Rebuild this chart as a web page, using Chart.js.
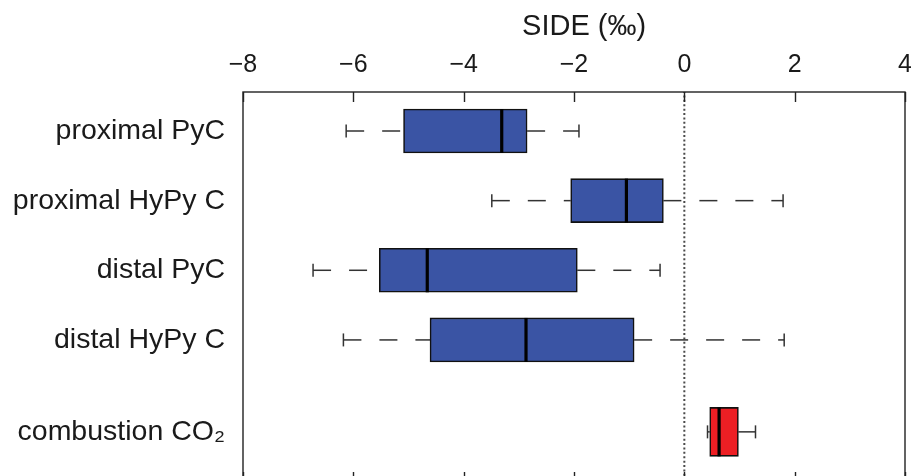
<!DOCTYPE html>
<html>
<head>
<meta charset="utf-8">
<script src="https://cdn.jsdelivr.net/npm/chart.js@4.4.1/dist/chart.umd.min.js"></script>
<style>
  html, body { margin: 0; padding: 0; background: #ffffff; overflow: hidden; width: 911px; height: 476px; }
  #wrap { width: 911px; height: 476px; overflow: hidden; position: relative; }
  canvas { display: block; position: absolute; left: 0; top: 0; }
</style>
</head>
<body>
<div id="wrap"><canvas id="c" width="911" height="490"></canvas></div>
<script>
// ---- data ----
const categories = ['proximal PyC', 'proximal HyPy C', 'distal PyC', 'distal HyPy C', 'combustion CO\u2082'];
const positions = [1, 2, 3, 4, 5.32];
const lowerWhisker = [-6.13, -3.49, -6.73, -6.18, 0.42];
const q1 = [-5.09, -2.06, -5.53, -4.61, 0.46];
const median = [-3.31, -1.05, -4.66, -2.87, 0.63];
const q3 = [-2.85, -0.38, -1.94, -0.91, 0.98];
const upperWhisker = [-1.91, 1.79, -0.44, 1.81, 1.29];
const boxColors = ['#3a54a4', '#3a54a4', '#3a54a4', '#3a54a4', '#ed1f24'];
const xTicks = [-8, -6, -4, -2, 0, 2, 4];
const axisTitle = '\u2002\u2009SIDE (\u2030)';

const FONT = "'Liberation Sans', Arial, Helvetica, sans-serif";
const INK = '#1a1a1a';

const blueIdx = [0, 1, 2, 3];
const redIdx = [4];

const datasets = [];

// zero reference line (dotted)
datasets.push({
  type: 'line',
  data: [{x: 0, y: 0.3}, {x: 0, y: 6.5}],
  borderColor: '#4a4a4a',
  borderWidth: 2,
  borderDash: [2, 2.4],
  pointRadius: 0,
  order: 20
});

// whiskers (dashed), drawn left to right
for (let i = 0; i < categories.length; i++) {
  [[lowerWhisker[i], q1[i]], [q3[i], upperWhisker[i]]].forEach(seg => {
    datasets.push({
      type: 'line',
      data: [{x: seg[0], y: positions[i]}, {x: seg[1], y: positions[i]}],
      borderColor: '#333333',
      borderWidth: 1.5,
      borderDash: [18, 18],
      pointRadius: 0,
      order: 10
    });
  });
}

// boxes
datasets.push({
  type: 'bar',
  data: blueIdx.map(i => ({y: positions[i], x: [q1[i], q3[i]]})),
  backgroundColor: blueIdx.map(i => boxColors[i]),
  borderColor: '#111111',
  borderWidth: 1.6,
  borderSkipped: false,
  barThickness: 44,
  grouped: false,
  order: 5
});
datasets.push({
  type: 'bar',
  data: redIdx.map(i => ({y: positions[i], x: [q1[i], q3[i]]})),
  backgroundColor: redIdx.map(i => boxColors[i]),
  borderColor: '#111111',
  borderWidth: 1.6,
  borderSkipped: false,
  barThickness: 49,
  grouped: false,
  order: 5
});

// whisker caps
datasets.push({
  type: 'scatter',
  data: categories.flatMap((c, i) => [{x: lowerWhisker[i], y: positions[i]}, {x: upperWhisker[i], y: positions[i]}]),
  pointStyle: 'line',
  rotation: 90,
  radius: 6.5,
  borderColor: '#333333',
  borderWidth: 1.5,
  order: 2
});

// medians
datasets.push({
  type: 'scatter',
  data: categories.map((c, i) => ({x: median[i], y: positions[i]})),
  pointStyle: 'line',
  rotation: 90,
  radius: [22, 22, 22, 22, 24.5],
  borderColor: '#000000',
  borderWidth: 3.2,
  order: 1
});

const framePlugin = {
  id: 'frame',
  afterDatasetsDraw(chart) {
    const {ctx, chartArea: a, scales} = chart;
    ctx.save();
    ctx.strokeStyle = '#222222';
    ctx.lineWidth = 1.4;
    ctx.strokeRect(a.left, a.top, a.right - a.left, a.bottom - a.top);
    ctx.beginPath();
    scales.x.ticks.forEach(t => {
      const px = Math.round(scales.x.getPixelForValue(t.value)) + 0.5;
      ctx.moveTo(px, a.top);
      ctx.lineTo(px, a.top + 10);
      ctx.moveTo(px, a.bottom);
      ctx.lineTo(px, a.bottom - 10);
    });
    ctx.stroke();
    ctx.restore();
  }
};

new Chart(document.getElementById('c'), {
  data: { datasets },
  options: {
    responsive: false,
    animation: false,
    indexAxis: 'y',
    layout: { autoPadding: false, padding: { top: 0, right: 6, bottom: 8, left: 0 } },
    plugins: { legend: { display: false }, tooltip: { enabled: false }, title: { display: false } },
    scales: {
      x: {
        type: 'linear',
        position: 'top',
        min: -8,
        max: 4,
        offset: false,
        afterBuildTicks(scale) { scale.ticks = xTicks.map(v => ({value: v})); },
        afterFit(scale) {
          scale.height = 92;
          scale.paddingLeft = 0; scale.paddingRight = 0;
          scale.paddingTop = 0; scale.paddingBottom = 0;
        },
        grid: { display: false, drawTicks: false },
        border: { display: false },
        ticks: {
          font: { family: FONT, size: 25 },
          color: INK,
          padding: 12,
          callback: v => (v < 0 ? '\u2212' + Math.abs(v) : String(v))
        },
        title: {
          display: true,
          text: axisTitle,
          font: { family: FONT, size: 29 },
          color: INK,
          padding: { top: 10, bottom: 0 }
        }
      },
      y: {
        type: 'linear',
        reverse: true,
        min: 0.44,
        max: 6.04,
        offset: false,
        afterBuildTicks(scale) { scale.ticks = positions.map(v => ({value: v})); },
        afterFit(scale) {
          scale.width = 243;
          scale.paddingLeft = 0; scale.paddingRight = 0;
          scale.paddingTop = 0; scale.paddingBottom = 0;
        },
        grid: { display: false, drawTicks: false },
        border: { display: false },
        ticks: {
          font: { family: FONT, size: 28.5 },
          color: INK,
          padding: 18,
          callback: (v, i) => categories[i]
        }
      }
    }
  },
  plugins: [framePlugin]
});
</script>
</body>
</html>
